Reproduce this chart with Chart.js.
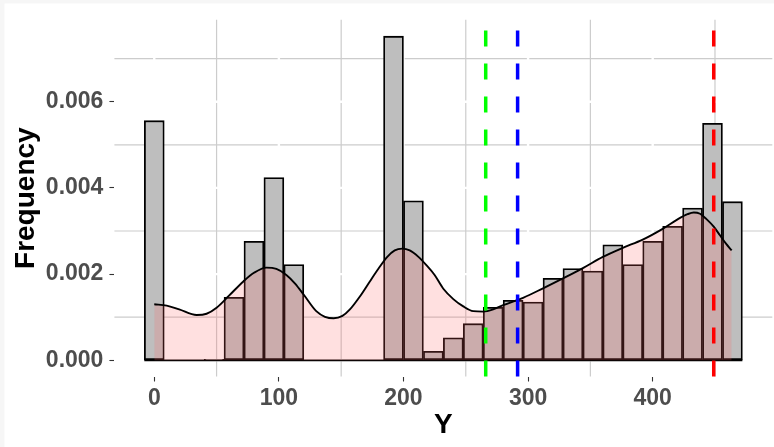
<!DOCTYPE html>
<html>
<head>
<meta charset="utf-8">
<script src="https://cdn.jsdelivr.net/npm/chart.js@4/dist/chart.umd.min.js"></script>
<style>
  html, body { margin: 0; padding: 0; background: #ffffff; }
  canvas { display: block; }
</style>
</head>
<body>
<canvas id="chart" width="774" height="447"></canvas>
<script>
// histogram bins (centre of each bin) and their density heights
const binCenters = [0, 16, 32, 48, 64, 80, 96, 112, 128, 144, 160, 176, 192, 208, 224,
  240, 256, 272, 288, 304, 320, 336, 352, 368, 384, 400, 416, 432, 448, 464];
const frequency = [0.00556, 0, 0, 0.00002, 0.00146, 0.00276, 0.00424, 0.00222, 0, 0,
  0, 0, 0.00752, 0.00370, 0.00021, 0.00052, 0.00085, 0.00123, 0.00139, 0.00135,
  0.00190, 0.00213, 0.00207, 0.00268, 0.00222, 0.00276, 0.00311, 0.00353, 0.00550, 0.00368];

// kernel density curve
const densityX = [0, 10, 20, 34, 42, 50, 60, 71.5, 80, 90, 98, 106, 113, 120, 130, 137,
  144, 151, 157, 165, 173, 180, 187, 193, 199, 205, 212, 218, 225, 232, 240, 248, 256,
  264, 272, 280, 296, 312, 328, 344, 360, 376, 392, 408, 420, 428, 433, 438, 443, 449,
  454, 459, 463.4];
const densityY = [0.00130, 0.00127, 0.00118, 0.00105, 0.00108, 0.00122, 0.00150, 0.00183,
  0.00203, 0.00215, 0.00212, 0.00198, 0.00178, 0.00152, 0.00114, 0.00101, 0.000975,
  0.00103, 0.00118, 0.00148, 0.00183, 0.00213, 0.00240, 0.00255, 0.00259, 0.00255,
  0.00240, 0.00222, 0.00198, 0.00166, 0.00142, 0.00125, 0.00114, 0.00113, 0.00118,
  0.00128, 0.00145, 0.00167, 0.00190, 0.00214, 0.00240, 0.00261, 0.00280, 0.00305,
  0.00327, 0.00339, 0.00343, 0.00340, 0.00328, 0.00310, 0.00290, 0.00270, 0.00255];

// dashed reference lines
const refValues = [266.0, 291.6, 449.0];
const refColors = ['#00ff00', '#0000ff', '#ff0000'];

// axis ticks
const xMajor = [0, 100, 200, 300, 400];
const xMinor = [50, 150, 250, 350, 450];
const yMajor = [0, 0.002, 0.004, 0.006];
const yMinor = [0.001, 0.003, 0.005, 0.007];

const tickFont = { family: '"Liberation Sans", Arial, sans-serif', size: 23, weight: 'bold' };
const titleFont = { family: '"Liberation Sans", Arial, sans-serif', size: 28, weight: 'bold' };

const panelPlugin = {
  id: 'panel',
  beforeDraw(chart) {
    const ctx = chart.ctx;
    ctx.save();
    ctx.fillStyle = '#f6f6f6';
    ctx.fillRect(0, 0, chart.width, chart.height);
    ctx.fillStyle = '#ffffff';
    ctx.fillRect(4.5, 3.5, chart.width - 4.5, chart.height - 3.5);
    ctx.restore();
  },
  beforeDatasetsDraw(chart) {
    const { ctx, chartArea: a, scales: { x, y } } = chart;
    ctx.save();
    ctx.strokeStyle = '#cccccc';
    ctx.lineWidth = 1.2;
    xMinor.forEach(v => {
      const px = x.getPixelForValue(v);
      ctx.beginPath(); ctx.moveTo(px, a.top); ctx.lineTo(px, a.bottom); ctx.stroke();
    });
    yMinor.forEach(v => {
      const py = y.getPixelForValue(v);
      ctx.beginPath(); ctx.moveTo(a.left, py); ctx.lineTo(a.right, py); ctx.stroke();
    });
    ctx.strokeStyle = '#ffffff';
    ctx.lineWidth = 2.4;
    xMajor.forEach(v => {
      const px = x.getPixelForValue(v);
      ctx.beginPath(); ctx.moveTo(px, a.top); ctx.lineTo(px, a.bottom); ctx.stroke();
    });
    yMajor.forEach(v => {
      const py = y.getPixelForValue(v);
      ctx.beginPath(); ctx.moveTo(a.left, py); ctx.lineTo(a.right, py); ctx.stroke();
    });
    ctx.restore();
  },
  afterDatasetDraw(chart, args) {
    if (args.index !== 0) return;
    // ggplot outlines empty bins too, so the baseline shows along the whole range
    const { ctx, scales: { x, y } } = chart;
    const half = (binCenters[1] - binCenters[0]) / 2;
    const py = y.getPixelForValue(0);
    ctx.save();
    ctx.strokeStyle = '#000000';
    ctx.lineWidth = 1.8;
    ctx.beginPath();
    ctx.moveTo(x.getPixelForValue(binCenters[0] - half), py);
    ctx.lineTo(x.getPixelForValue(binCenters[binCenters.length - 1] + half), py);
    ctx.stroke();
    ctx.restore();
  },
  afterDatasetsDraw(chart) {
    const { ctx, chartArea: a, scales: { x } } = chart;
    ctx.save();
    ctx.lineWidth = 3.5;
    ctx.setLineDash([16, 17]);
    refValues.forEach((v, i) => {
      const px = x.getPixelForValue(v);
      ctx.strokeStyle = refColors[i];
      ctx.beginPath(); ctx.moveTo(px, a.bottom); ctx.lineTo(px, a.top); ctx.stroke();
    });
    ctx.restore();
  }
};

new Chart(document.getElementById('chart'), {
  type: 'bar',
  data: {
    datasets: [
      {
        type: 'bar',
        order: 2,
        data: binCenters.map((c, i) => ({ x: c, y: frequency[i] })),
        backgroundColor: '#bebebe',
        borderColor: '#000000',
        borderWidth: 1.8,
        borderSkipped: false,
        barPercentage: 1,
        categoryPercentage: 1
      },
      {
        type: 'line',
        order: 1,
        data: densityX.map((v, i) => ({ x: v, y: densityY[i] })),
        borderColor: '#000000',
        borderWidth: 1.9,
        backgroundColor: 'rgba(255, 102, 102, 0.2)',
        fill: 'origin',
        pointRadius: 0,
        tension: 0.4,
        cubicInterpolationMode: 'monotone'
      }
    ]
  },
  options: {
    responsive: false,
    devicePixelRatio: 1,
    animation: false,
    layout: { padding: { top: 14, right: 1.7, left: 0, bottom: 0 } },
    plugins: { legend: { display: false }, tooltip: { enabled: false } },
    scales: {
      x: {
        type: 'linear',
        min: -32,
        max: 496,
        offset: false,
        afterBuildTicks: s => { s.ticks = xMajor.map(v => ({ value: v })); },
        afterFit: s => { s.height = 70.5; },
        grid: { offset: false, drawOnChartArea: false, tickLength: 5, tickColor: '#333333', tickWidth: 1.1 },
        border: { display: false },
        ticks: { font: tickFont, color: '#4d4d4d', padding: 3, maxRotation: 0, callback: v => v },
        title: { display: true, text: 'Y', font: titleFont, color: '#000000', padding: { top: 0, bottom: 5 } }
      },
      y: {
        min: -0.000376,
        max: 0.0079,
        afterBuildTicks: s => { s.ticks = yMajor.map(v => ({ value: v })); },
        afterFit: s => { s.width = 114.4; },
        grid: { drawOnChartArea: false, tickLength: 5, tickColor: '#333333', tickWidth: 1.1 },
        border: { display: false },
        ticks: { font: tickFont, color: '#4d4d4d', padding: 6, callback: v => v.toFixed(3) },
        title: { display: true, text: 'Frequency', font: titleFont, color: '#000000', padding: { top: 9, bottom: 0 } }
      }
    }
  },
  plugins: [panelPlugin]
});
</script>
</body>
</html>
